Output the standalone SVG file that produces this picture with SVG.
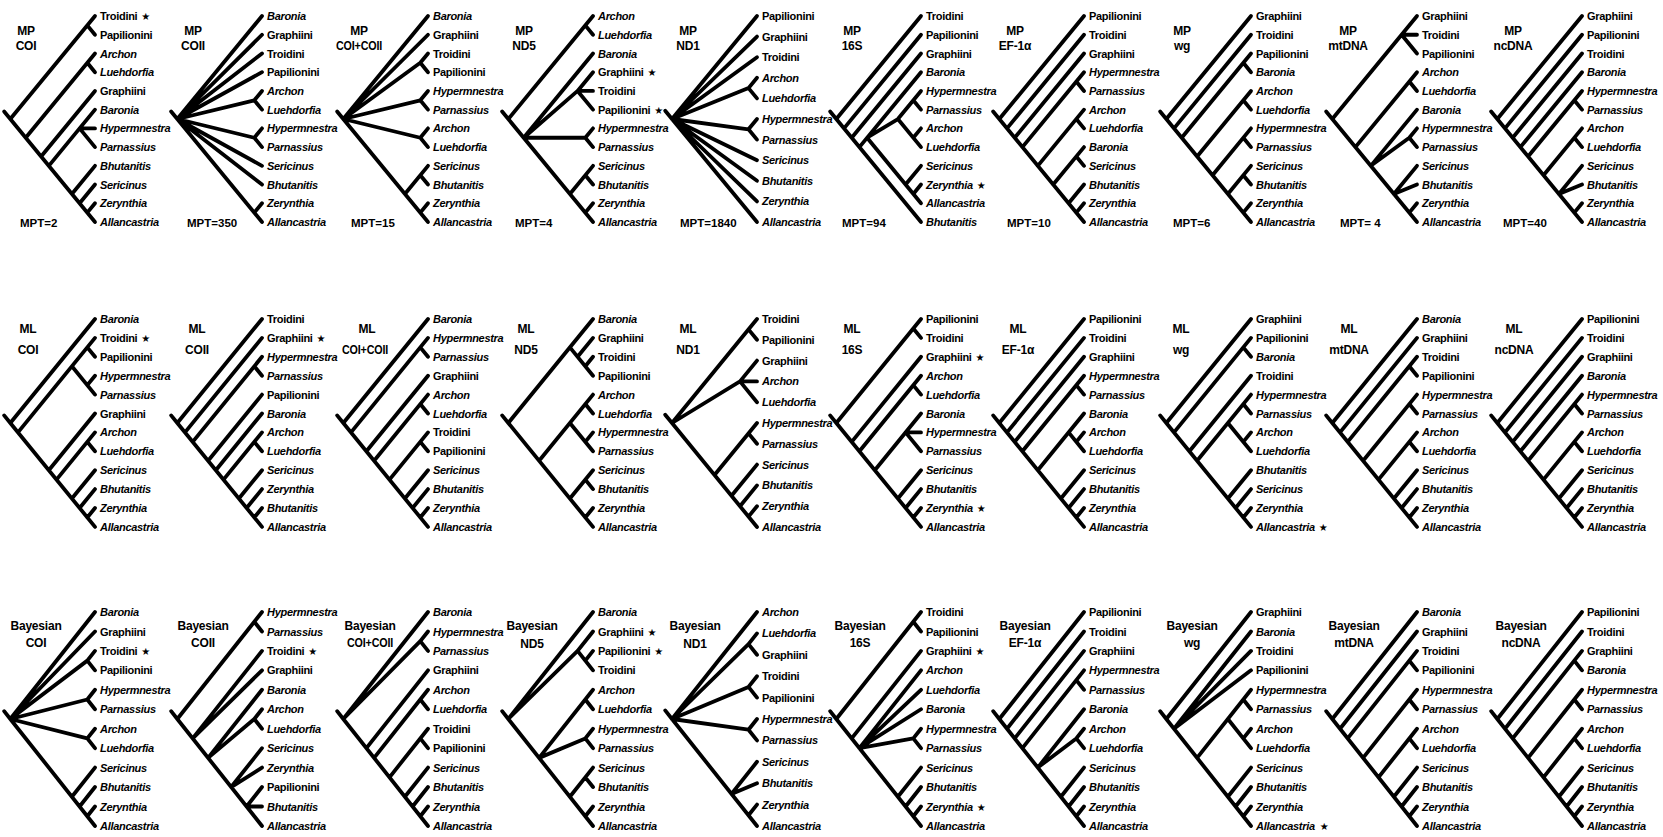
<svg xmlns="http://www.w3.org/2000/svg" width="1663" height="837" viewBox="0 0 1663 837">
<style>
.br{fill:none;stroke:#000;stroke-width:3.8;stroke-linecap:round;stroke-linejoin:round;vector-effect:non-scaling-stroke}
text{font-family:"Liberation Sans",Arial,sans-serif;font-weight:bold;font-size:11px;letter-spacing:-0.3px;fill:#000}
.i{font-style:italic}
.lb{font-size:12px;text-anchor:middle;letter-spacing:-0.2px}
.mpt{font-size:11.5px;letter-spacing:0}
.s{font-family:"DejaVu Sans",sans-serif;font-size:10px;font-style:normal;font-weight:bold}
</style>
<rect width="1663" height="837" fill="#fff"/>
<g id="connectors">
<path id="b-r1c0" class="br" transform="translate(95,16) scale(15.4,18.73)" d="M-5.9 5.1L-5.5 5.5M-5.5 5.5L0 0M-0.5 0.5L0 1M-5.5 5.5L0 11M-4.5 6.5L0 2M-0.5 2.5L0 3M-3.5 7.5L0 4M-3 8L0 5M-1 6L0 6M-1 6L0 7M-1.5 9.5L0 8M-1 10L0 9M-0.5 10.5L0 10"/>
<path id="b-r1c1" class="br" transform="translate(262,16) scale(15.4,18.73)" d="M-5.9 5.1L-5.5 5.5M-5.5 5.5L0 0M-5.5 5.5L0 1M-5.5 5.5L0 2M-5.5 5.5L0 3M-5.5 5.5L-0.5 4.5L0 4M-0.5 4.5L0 5M-5.5 5.5L-0.5 6.5L0 6M-0.5 6.5L0 7M-5.5 5.5L0 8M-5.5 5.5L0 9M-5.5 5.5L0 11M-0.5 10.5L0 10"/>
<path id="b-r1c2" class="br" transform="translate(428,16) scale(15.4,18.73)" d="M-5.9 5.1L-5.5 5.5M-5.5 5.5L0 0M-5.5 5.5L0 1M-5.5 5.5L-0.5 2.5L0 2M-0.5 2.5L0 3M-5.5 5.5L-0.5 4.5L0 4M-0.5 4.5L0 5M-5.5 5.5L-0.5 6.5L0 6M-0.5 6.5L0 7M-5.5 5.5L0 11M-1.5 9.5L0 8M-0.5 8.5L0 9M-0.5 10.5L0 10"/>
<path id="b-r1c3" class="br" transform="translate(593,16) scale(15.4,18.73)" d="M-5.9 5.1L-5.5 5.5M-5.5 5.5L0 0M-0.5 0.5L0 1M-5.5 5.5L0 11M-4.5 6.5L0 2M-4.5 6.5L-1 4L0 3M-1 4L0 4M-1 4L0 5M-4.5 6.5L-0.5 6.5L0 6M-0.5 6.5L0 7M-1.5 9.5L0 8M-0.5 8.5L0 9M-0.5 10.5L0 10"/>
<path id="b-r1c4" class="br" transform="translate(757,16) scale(17,20.6)" d="M-5.4 4.6L-5 5M-5 5L0 0M-5 5L0 1M-5 5L0 2M-5 5L-0.5 3.5L0 3M-0.5 3.5L0 4M-5 5L-0.5 5.5L0 5M-0.5 5.5L0 6M-5 5L0 7M-5 5L0 8M-5 5L0 9M-5 5L0 10"/>
<path id="b-r1c5" class="br" transform="translate(921,16) scale(15.4,18.73)" d="M-5.9 5.1L-5.5 5.5M-5.5 5.5L0 0M-5.5 5.5L0 11M-5 6L0 1M-4.5 6.5L0 2M-4 7L0 3M-3.5 6.5L-1.5 5.5L0 4M-0.5 4.5L0 5M-1.5 5.5L0 7M-0.5 6.5L0 6M-3.5 6.5L0 10M-1 9L0 8M-0.5 9.5L0 9"/>
<path id="b-r1c6" class="br" transform="translate(1084,16) scale(15.4,18.73)" d="M-5.9 5.1L-5.5 5.5M-5.5 5.5L0 11M-5.5 5.5L0 0M-5 6L0 1M-4.5 6.5L0 2M-4 7L0 3M-0.5 3.5L0 4M-3 8L0 5M-0.5 5.5L0 6M-2 9L0 7M-0.5 7.5L0 8M-1 10L0 9M-0.5 10.5L0 10"/>
<path id="b-r1c7" class="br" transform="translate(1251,16) scale(15.4,18.73)" d="M-5.9 5.1L-5.5 5.5M-5.5 5.5L0 11M-5.5 5.5L0 0M-5 6L0 1M-4.5 6.5L0 2M-0.5 2.5L0 3M-3.5 7.5L0 4M-0.5 4.5L0 5M-2.5 8.5L0 6M-0.5 6.5L0 7M-1.5 9.5L0 8M-0.5 8.5L0 9M-0.5 10.5L0 10"/>
<path id="b-r1c8" class="br" transform="translate(1417,16) scale(15.4,18.73)" d="M-5.9 5.1L-5.5 5.5M-5.5 5.5L0 0M-1 1L0 1M-1 1L0 2M-5.5 5.5L0 11M-4 7L0 3M-0.5 3.5L0 4M-3 8L0 5M-3 8L-0.5 6.5L0 6M-0.5 6.5L0 7M-1.5 9.5L0 8M-1.5 9.5L0 9M-0.5 10.5L0 10"/>
<path id="b-r1c9" class="br" transform="translate(1582,16) scale(15.4,18.73)" d="M-5.9 5.1L-5.5 5.5M-5.5 5.5L0 11M-5.5 5.5L0 0M-5 6L0 1M-4.5 6.5L0 2M-4 7L0 3M-3.5 7.5L0 4M-0.5 4.5L0 5M-2.5 8.5L0 6M-0.5 6.5L0 7M-1.5 9.5L0 8M-1.5 9.5L0 9M-0.5 10.5L0 10"/>
<path id="b-r2c0" class="br" transform="translate(95,319) scale(15.4,18.9)" d="M-5.9 5.1L-5.5 5.5M-5.5 5.5L0 11M-5.5 5.5L0 0M-5 6L0 1M-0.5 1.5L0 2M-1.5 2.5L0 4M-0.5 3.5L0 3M-3 8L0 5M-2.5 8.5L0 6M-0.5 6.5L0 7M-1.5 9.5L0 8M-1 10L0 9M-0.5 10.5L0 10"/>
<path id="b-r2c1" class="br" transform="translate(262,319) scale(15.4,18.9)" d="M-5.9 5.1L-5.5 5.5M-5.5 5.5L0 11M-5.5 5.5L0 0M-5 6L0 1M-4.5 6.5L0 2M-0.5 2.5L0 3M-3.5 7.5L0 4M-3 8L0 5M-2.5 8.5L0 6M-0.5 6.5L0 7M-1.5 9.5L0 8M-1 10L0 9M-0.5 10.5L0 10"/>
<path id="b-r2c2" class="br" transform="translate(428,319) scale(15.4,18.9)" d="M-5.9 5.1L-5.5 5.5M-5.5 5.5L0 11M-5.5 5.5L0 0M-5 6L0 1M-0.5 1.5L0 2M-4 7L0 3M-3.5 7.5L0 4M-0.5 4.5L0 5M-2.5 8.5L0 6M-0.5 6.5L0 7M-1.5 9.5L0 8M-1 10L0 9M-0.5 10.5L0 10"/>
<path id="b-r2c3" class="br" transform="translate(593,319) scale(15.4,18.9)" d="M-5.9 5.1L-5.5 5.5M-5.5 5.5L0 0M-1.5 1.5L0 3M-1 2L0 1M-0.5 2.5L0 2M-5.5 5.5L0 11M-3.5 7.5L0 4M-1.5 5.5L0 7M-0.5 4.5L0 5M-0.5 6.5L0 6M-1.5 9.5L0 8M-0.5 8.5L0 9M-0.5 10.5L0 10"/>
<path id="b-r2c4" class="br" transform="translate(757,319) scale(17,20.8)" d="M-5.4 4.6L-5 5M-5 5L0 0M-0.5 0.5L0 1M-5 5L-1 3L0 2M-1 3L0 3M-1 3L0 4M-5 5L0 10M-2.5 7.5L0 5M-0.5 5.5L0 6M-1.5 8.5L0 7M-1 9L0 8M-0.5 9.5L0 9"/>
<path id="b-r2c5" class="br" transform="translate(921,319) scale(15.4,18.9)" d="M-5.9 5.1L-5.5 5.5M-5.5 5.5L0 0M-0.5 0.5L0 1M-5.5 5.5L0 11M-4.5 6.5L0 2M-4 7L0 3M-0.5 3.5L0 4M-3 8L0 5M-1 6L0 6M-1 6L0 7M-1.5 9.5L0 8M-1 10L0 9M-0.5 10.5L0 10"/>
<path id="b-r2c6" class="br" transform="translate(1084,319) scale(15.4,18.9)" d="M-5.9 5.1L-5.5 5.5M-5.5 5.5L0 11M-5.5 5.5L0 0M-5 6L0 1M-4.5 6.5L0 2M-4 7L0 3M-0.5 3.5L0 4M-3 8L0 5M-1 6L0 7M-0.5 6.5L0 6M-1.5 9.5L0 8M-1 10L0 9M-0.5 10.5L0 10"/>
<path id="b-r2c7" class="br" transform="translate(1251,319) scale(15.4,18.9)" d="M-5.9 5.1L-5.5 5.5M-5.5 5.5L0 11M-5.5 5.5L0 0M-5 6L0 1M-0.5 1.5L0 2M-4 7L0 3M-3.5 7.5L0 4M-1.5 5.5L0 7M-0.5 4.5L0 5M-0.5 6.5L0 6M-1.5 9.5L0 8M-1 10L0 9M-0.5 10.5L0 10"/>
<path id="b-r2c8" class="br" transform="translate(1417,319) scale(15.4,18.9)" d="M-5.9 5.1L-5.5 5.5M-5.5 5.5L0 11M-5.5 5.5L0 0M-5 6L0 1M-4.5 6.5L0 2M-0.5 2.5L0 3M-3.5 7.5L0 4M-0.5 4.5L0 5M-2.5 8.5L0 6M-0.5 6.5L0 7M-1.5 9.5L0 8M-1 10L0 9M-0.5 10.5L0 10"/>
<path id="b-r2c9" class="br" transform="translate(1582,319) scale(15.4,18.9)" d="M-5.9 5.1L-5.5 5.5M-5.5 5.5L0 11M-5.5 5.5L0 0M-5 6L0 1M-4.5 6.5L0 2M-4 7L0 3M-3.5 7.5L0 4M-0.5 4.5L0 5M-2.5 8.5L0 6M-0.5 6.5L0 7M-1.5 9.5L0 8M-1 10L0 9M-0.5 10.5L0 10"/>
<path id="b-r3c0" class="br" transform="translate(95,612) scale(15.4,19.45)" d="M-5.9 5.1L-5.5 5.5M-5.5 5.5L0 0M-5.5 5.5L0 1M-5.5 5.5L-0.5 2.5L0 2M-0.5 2.5L0 3M-5.5 5.5L-0.5 4.5L0 4M-0.5 4.5L0 5M-5.5 5.5L-0.5 6.5L0 6M-0.5 6.5L0 7M-5.5 5.5L0 11M-1.5 9.5L0 8M-1 10L0 9M-0.5 10.5L0 10"/>
<path id="b-r3c1" class="br" transform="translate(262,612) scale(15.4,19.45)" d="M-5.9 5.1L-5.5 5.5M-5.5 5.5L0 0M-0.5 0.5L0 1M-5.5 5.5L0 11M-4.5 6.5L0 2M-4.5 6.5L0 3M-3.5 7.5L0 4M-3.5 7.5L-0.5 5.5L0 5M-0.5 5.5L0 6M-2 9L0 7M-2 9L0 8M-1 10L0 9M-1 10L0 10"/>
<path id="b-r3c2" class="br" transform="translate(428,612) scale(15.4,19.45)" d="M-5.9 5.1L-5.5 5.5M-5.5 5.5L0 0M-5.5 5.5L-0.5 1.5L0 1M-0.5 1.5L0 2M-5.5 5.5L0 11M-4 7L0 3M-3.5 7.5L0 4M-0.5 4.5L0 5M-2.5 8.5L0 6M-0.5 6.5L0 7M-1.5 9.5L0 8M-1 10L0 9M-0.5 10.5L0 10"/>
<path id="b-r3c3" class="br" transform="translate(593,612) scale(15.4,19.45)" d="M-5.9 5.1L-5.5 5.5M-5.5 5.5L0 0M-5.5 5.5L-1 2L0 1M-1 2L0 3M-0.5 2.5L0 2M-5.5 5.5L0 11M-3.5 7.5L0 4M-0.5 4.5L0 5M-3.5 7.5L-0.5 6.5L0 6M-0.5 6.5L0 7M-1.5 9.5L0 8M-0.5 8.5L0 9M-0.5 10.5L0 10"/>
<path id="b-r3c4" class="br" transform="translate(757,612) scale(17,21.4)" d="M-5.4 4.6L-5 5M-5 5L0 0M-5 5L-0.5 1.5L0 1M-0.5 1.5L0 2M-5 5L-0.5 3.5L0 3M-0.5 3.5L0 4M-5 5L-0.5 5.5L0 5M-0.5 5.5L0 6M-5 5L0 10M-1.5 8.5L0 7M-1.5 8.5L0 8M-0.5 9.5L0 9"/>
<path id="b-r3c5" class="br" transform="translate(921,612) scale(15.4,19.45)" d="M-5.9 5.1L-5.5 5.5M-5.5 5.5L0 0M-0.5 0.5L0 1M-5.5 5.5L0 11M-4.5 6.5L0 2M-4 7L0 3M-4 7L0 4M-4 7L0 5M-4 7L-0.5 6.5L0 6M-0.5 6.5L0 7M-1.5 9.5L0 8M-1 10L0 9M-0.5 10.5L0 10"/>
<path id="b-r3c6" class="br" transform="translate(1084,612) scale(15.4,19.45)" d="M-5.9 5.1L-5.5 5.5M-5.5 5.5L0 11M-5.5 5.5L0 0M-5 6L0 1M-4.5 6.5L0 2M-4 7L0 3M-0.5 3.5L0 4M-3 8L0 5M-3 8L-0.5 6.5L0 6M-0.5 6.5L0 7M-1.5 9.5L0 8M-1 10L0 9M-0.5 10.5L0 10"/>
<path id="b-r3c7" class="br" transform="translate(1251,612) scale(15.4,19.45)" d="M-5.9 5.1L-5.5 5.5M-5.5 5.5L0 11M-5.5 5.5L0 0M-5 6L0 1M-5 6L0 2M-5 6L0 3M-3.5 7.5L0 4M-1.5 5.5L0 7M-0.5 4.5L0 5M-0.5 6.5L0 6M-1.5 9.5L0 8M-1 10L0 9M-0.5 10.5L0 10"/>
<path id="b-r3c8" class="br" transform="translate(1417,612) scale(15.4,19.45)" d="M-5.9 5.1L-5.5 5.5M-5.5 5.5L0 11M-5.5 5.5L0 0M-5 6L0 1M-4.5 6.5L0 2M-0.5 2.5L0 3M-3.5 7.5L0 4M-0.5 4.5L0 5M-2.5 8.5L0 6M-0.5 6.5L0 7M-1.5 9.5L0 8M-1 10L0 9M-0.5 10.5L0 10"/>
<path id="b-r3c9" class="br" transform="translate(1582,612) scale(15.4,19.45)" d="M-5.9 5.1L-5.5 5.5M-5.5 5.5L0 11M-5.5 5.5L0 0M-5 6L0 1M-4.5 6.5L0 2M-0.5 2.5L0 3M-3.5 7.5L0 4M-0.5 4.5L0 5M-2.5 8.5L0 6M-0.5 6.5L0 7M-1.5 9.5L0 8M-1 10L0 9M-0.5 10.5L0 10"/>
</g>

<g id="mp-coi" transform="translate(100,0)">
<text class="lb" x="-74" y="35">MP</text><text class="lb" x="-74" y="50">COI</text><text class="mpt" x="-80" y="227">MPT=2</text>
<text y="20">Troidini<tspan class="s" dx="4">★</tspan></text><text y="38.7">Papilionini</text><text class="i" y="57.5">Archon</text><text class="i" y="76.2">Luehdorfia</text><text y="94.9">Graphiini</text><text class="i" y="113.7">Baronia</text><text class="i" y="132.4">Hypermnestra</text><text class="i" y="151.1">Parnassius</text><text class="i" y="169.8">Bhutanitis</text><text class="i" y="188.6">Sericinus</text><text class="i" y="207.3">Zerynthia</text><text class="i" y="226">Allancastria</text>
</g>
<g id="mp-coii" transform="translate(267,0)">
<text class="lb" x="-74" y="35">MP</text><text class="lb" x="-74" y="50">COII</text><text class="mpt" x="-80" y="227">MPT=350</text>
<text class="i" y="20">Baronia</text><text y="38.7">Graphiini</text><text y="57.5">Troidini</text><text y="76.2">Papilionini</text><text class="i" y="94.9">Archon</text><text class="i" y="113.7">Luehdorfia</text><text class="i" y="132.4">Hypermnestra</text><text class="i" y="151.1">Parnassius</text><text class="i" y="169.8">Sericinus</text><text class="i" y="188.6">Bhutanitis</text><text class="i" y="207.3">Zerynthia</text><text class="i" y="226">Allancastria</text>
</g>
<g id="mp-coi-coii" transform="translate(433,0)">
<text class="lb" x="-74" y="35">MP</text><text class="lb" x="-74" y="50" textLength="46" lengthAdjust="spacingAndGlyphs">COI+COII</text><text class="mpt" x="-82" y="227">MPT=15</text>
<text class="i" y="20">Baronia</text><text y="38.7">Graphiini</text><text y="57.5">Troidini</text><text y="76.2">Papilionini</text><text class="i" y="94.9">Hypermnestra</text><text class="i" y="113.7">Parnassius</text><text class="i" y="132.4">Archon</text><text class="i" y="151.1">Luehdorfia</text><text class="i" y="169.8">Sericinus</text><text class="i" y="188.6">Bhutanitis</text><text class="i" y="207.3">Zerynthia</text><text class="i" y="226">Allancastria</text>
</g>
<g id="mp-nd5" transform="translate(598,0)">
<text class="lb" x="-74" y="35">MP</text><text class="lb" x="-74" y="50">ND5</text><text class="mpt" x="-83" y="227">MPT=4</text>
<text class="i" y="20">Archon</text><text class="i" y="38.7">Luehdorfia</text><text class="i" y="57.5">Baronia</text><text y="76.2">Graphiini<tspan class="s" dx="4">★</tspan></text><text y="94.9">Troidini</text><text y="113.7">Papilionini<tspan class="s" dx="4">★</tspan></text><text class="i" y="132.4">Hypermnestra</text><text class="i" y="151.1">Parnassius</text><text class="i" y="169.8">Sericinus</text><text class="i" y="188.6">Bhutanitis</text><text class="i" y="207.3">Zerynthia</text><text class="i" y="226">Allancastria</text>
</g>
<g id="mp-nd1" transform="translate(762,0)">
<text class="lb" x="-74" y="35">MP</text><text class="lb" x="-74" y="50">ND1</text><text class="mpt" x="-82" y="227">MPT=1840</text>
<text y="20">Papilionini</text><text y="40.6">Graphiini</text><text y="61.2">Troidini</text><text class="i" y="81.8">Archon</text><text class="i" y="102.4">Luehdorfia</text><text class="i" y="123">Hypermnestra</text><text class="i" y="143.6">Parnassius</text><text class="i" y="164.2">Sericinus</text><text class="i" y="184.8">Bhutanitis</text><text class="i" y="205.4">Zerynthia</text><text class="i" y="226">Allancastria</text>
</g>
<g id="mp-16s" transform="translate(926,0)">
<text class="lb" x="-74" y="35">MP</text><text class="lb" x="-74" y="50">16S</text><text class="mpt" x="-84" y="227">MPT=94</text>
<text y="20">Troidini</text><text y="38.7">Papilionini</text><text y="57.5">Graphiini</text><text class="i" y="76.2">Baronia</text><text class="i" y="94.9">Hypermnestra</text><text class="i" y="113.7">Parnassius</text><text class="i" y="132.4">Archon</text><text class="i" y="151.1">Luehdorfia</text><text class="i" y="169.8">Sericinus</text><text class="i" y="188.6">Zerynthia<tspan class="s" dx="4">★</tspan></text><text class="i" y="207.3">Allancastria</text><text class="i" y="226">Bhutanitis</text>
</g>
<g id="mp-ef1a" transform="translate(1089,0)">
<text class="lb" x="-74" y="35">MP</text><text class="lb" x="-74" y="50">EF-1α</text><text class="mpt" x="-82" y="227">MPT=10</text>
<text y="20">Papilionini</text><text y="38.7">Troidini</text><text y="57.5">Graphiini</text><text class="i" y="76.2">Hypermnestra</text><text class="i" y="94.9">Parnassius</text><text class="i" y="113.7">Archon</text><text class="i" y="132.4">Luehdorfia</text><text class="i" y="151.1">Baronia</text><text class="i" y="169.8">Sericinus</text><text class="i" y="188.6">Bhutanitis</text><text class="i" y="207.3">Zerynthia</text><text class="i" y="226">Allancastria</text>
</g>
<g id="mp-wg" transform="translate(1256,0)">
<text class="lb" x="-74" y="35">MP</text><text class="lb" x="-74" y="50">wg</text><text class="mpt" x="-83" y="227">MPT=6</text>
<text y="20">Graphiini</text><text y="38.7">Troidini</text><text y="57.5">Papilionini</text><text class="i" y="76.2">Baronia</text><text class="i" y="94.9">Archon</text><text class="i" y="113.7">Luehdorfia</text><text class="i" y="132.4">Hypermnestra</text><text class="i" y="151.1">Parnassius</text><text class="i" y="169.8">Sericinus</text><text class="i" y="188.6">Bhutanitis</text><text class="i" y="207.3">Zerynthia</text><text class="i" y="226">Allancastria</text>
</g>
<g id="mp-mtdna" transform="translate(1422,0)">
<text class="lb" x="-74" y="35">MP</text><text class="lb" x="-74" y="50">mtDNA</text><text class="mpt" x="-82" y="227">MPT= 4</text>
<text y="20">Graphiini</text><text y="38.7">Troidini</text><text y="57.5">Papilionini</text><text class="i" y="76.2">Archon</text><text class="i" y="94.9">Luehdorfia</text><text class="i" y="113.7">Baronia</text><text class="i" y="132.4">Hypermnestra</text><text class="i" y="151.1">Parnassius</text><text class="i" y="169.8">Sericinus</text><text class="i" y="188.6">Bhutanitis</text><text class="i" y="207.3">Zerynthia</text><text class="i" y="226">Allancastria</text>
</g>
<g id="mp-ncdna" transform="translate(1587,0)">
<text class="lb" x="-74" y="35">MP</text><text class="lb" x="-74" y="50">ncDNA</text><text class="mpt" x="-84" y="227">MPT=40</text>
<text y="20">Graphiini</text><text y="38.7">Papilionini</text><text y="57.5">Troidini</text><text class="i" y="76.2">Baronia</text><text class="i" y="94.9">Hypermnestra</text><text class="i" y="113.7">Parnassius</text><text class="i" y="132.4">Archon</text><text class="i" y="151.1">Luehdorfia</text><text class="i" y="169.8">Sericinus</text><text class="i" y="188.6">Bhutanitis</text><text class="i" y="207.3">Zerynthia</text><text class="i" y="226">Allancastria</text>
</g>

<g id="ml-coi" transform="translate(100,0)">
<text class="lb" x="-72" y="333">ML</text><text class="lb" x="-72" y="354">COI</text>
<text class="i" y="323">Baronia</text><text y="341.9">Troidini<tspan class="s" dx="4">★</tspan></text><text y="360.8">Papilionini</text><text class="i" y="379.7">Hypermnestra</text><text class="i" y="398.6">Parnassius</text><text y="417.5">Graphiini</text><text class="i" y="436.4">Archon</text><text class="i" y="455.3">Luehdorfia</text><text class="i" y="474.2">Sericinus</text><text class="i" y="493.1">Bhutanitis</text><text class="i" y="512">Zerynthia</text><text class="i" y="530.9">Allancastria</text>
</g>
<g id="ml-coii" transform="translate(267,0)">
<text class="lb" x="-70" y="333">ML</text><text class="lb" x="-70" y="354">COII</text>
<text y="323">Troidini</text><text y="341.9">Graphiini<tspan class="s" dx="4">★</tspan></text><text class="i" y="360.8">Hypermnestra</text><text class="i" y="379.7">Parnassius</text><text y="398.6">Papilionini</text><text class="i" y="417.5">Baronia</text><text class="i" y="436.4">Archon</text><text class="i" y="455.3">Luehdorfia</text><text class="i" y="474.2">Sericinus</text><text class="i" y="493.1">Zerynthia</text><text class="i" y="512">Bhutanitis</text><text class="i" y="530.9">Allancastria</text>
</g>
<g id="ml-coi-coii" transform="translate(433,0)">
<text class="lb" x="-66" y="333">ML</text><text class="lb" x="-68" y="354" textLength="46" lengthAdjust="spacingAndGlyphs">COI+COII</text>
<text class="i" y="323">Baronia</text><text class="i" y="341.9">Hypermnestra</text><text class="i" y="360.8">Parnassius</text><text y="379.7">Graphiini</text><text class="i" y="398.6">Archon</text><text class="i" y="417.5">Luehdorfia</text><text y="436.4">Troidini</text><text y="455.3">Papilionini</text><text class="i" y="474.2">Sericinus</text><text class="i" y="493.1">Bhutanitis</text><text class="i" y="512">Zerynthia</text><text class="i" y="530.9">Allancastria</text>
</g>
<g id="ml-nd5" transform="translate(598,0)">
<text class="lb" x="-72" y="333">ML</text><text class="lb" x="-72" y="354">ND5</text>
<text class="i" y="323">Baronia</text><text y="341.9">Graphiini</text><text y="360.8">Troidini</text><text y="379.7">Papilionini</text><text class="i" y="398.6">Archon</text><text class="i" y="417.5">Luehdorfia</text><text class="i" y="436.4">Hypermnestra</text><text class="i" y="455.3">Parnassius</text><text class="i" y="474.2">Sericinus</text><text class="i" y="493.1">Bhutanitis</text><text class="i" y="512">Zerynthia</text><text class="i" y="530.9">Allancastria</text>
</g>
<g id="ml-nd1" transform="translate(762,0)">
<text class="lb" x="-74" y="333">ML</text><text class="lb" x="-74" y="354">ND1</text>
<text y="323">Troidini</text><text y="343.8">Papilionini</text><text y="364.6">Graphiini</text><text class="i" y="385.4">Archon</text><text class="i" y="406.2">Luehdorfia</text><text class="i" y="427">Hypermnestra</text><text class="i" y="447.8">Parnassius</text><text class="i" y="468.6">Sericinus</text><text class="i" y="489.4">Bhutanitis</text><text class="i" y="510.2">Zerynthia</text><text class="i" y="531">Allancastria</text>
</g>
<g id="ml-16s" transform="translate(926,0)">
<text class="lb" x="-74" y="333">ML</text><text class="lb" x="-74" y="354">16S</text>
<text y="323">Papilionini</text><text y="341.9">Troidini</text><text y="360.8">Graphiini<tspan class="s" dx="4">★</tspan></text><text class="i" y="379.7">Archon</text><text class="i" y="398.6">Luehdorfia</text><text class="i" y="417.5">Baronia</text><text class="i" y="436.4">Hypermnestra</text><text class="i" y="455.3">Parnassius</text><text class="i" y="474.2">Sericinus</text><text class="i" y="493.1">Bhutanitis</text><text class="i" y="512">Zerynthia<tspan class="s" dx="4">★</tspan></text><text class="i" y="530.9">Allancastria</text>
</g>
<g id="ml-ef1a" transform="translate(1089,0)">
<text class="lb" x="-71" y="333">ML</text><text class="lb" x="-71" y="354">EF-1α</text>
<text y="323">Papilionini</text><text y="341.9">Troidini</text><text y="360.8">Graphiini</text><text class="i" y="379.7">Hypermnestra</text><text class="i" y="398.6">Parnassius</text><text class="i" y="417.5">Baronia</text><text class="i" y="436.4">Archon</text><text class="i" y="455.3">Luehdorfia</text><text class="i" y="474.2">Sericinus</text><text class="i" y="493.1">Bhutanitis</text><text class="i" y="512">Zerynthia</text><text class="i" y="530.9">Allancastria</text>
</g>
<g id="ml-wg" transform="translate(1256,0)">
<text class="lb" x="-75" y="333">ML</text><text class="lb" x="-75" y="354">wg</text>
<text y="323">Graphiini</text><text y="341.9">Papilionini</text><text class="i" y="360.8">Baronia</text><text y="379.7">Troidini</text><text class="i" y="398.6">Hypermnestra</text><text class="i" y="417.5">Parnassius</text><text class="i" y="436.4">Archon</text><text class="i" y="455.3">Luehdorfia</text><text class="i" y="474.2">Bhutanitis</text><text class="i" y="493.1">Sericinus</text><text class="i" y="512">Zerynthia</text><text class="i" y="530.9">Allancastria<tspan class="s" dx="4">★</tspan></text>
</g>
<g id="ml-mtdna" transform="translate(1422,0)">
<text class="lb" x="-73" y="333">ML</text><text class="lb" x="-73" y="354">mtDNA</text>
<text class="i" y="323">Baronia</text><text y="341.9">Graphiini</text><text y="360.8">Troidini</text><text y="379.7">Papilionini</text><text class="i" y="398.6">Hypermnestra</text><text class="i" y="417.5">Parnassius</text><text class="i" y="436.4">Archon</text><text class="i" y="455.3">Luehdorfia</text><text class="i" y="474.2">Sericinus</text><text class="i" y="493.1">Bhutanitis</text><text class="i" y="512">Zerynthia</text><text class="i" y="530.9">Allancastria</text>
</g>
<g id="ml-ncdna" transform="translate(1587,0)">
<text class="lb" x="-73" y="333">ML</text><text class="lb" x="-73" y="354">ncDNA</text>
<text y="323">Papilionini</text><text y="341.9">Troidini</text><text y="360.8">Graphiini</text><text class="i" y="379.7">Baronia</text><text class="i" y="398.6">Hypermnestra</text><text class="i" y="417.5">Parnassius</text><text class="i" y="436.4">Archon</text><text class="i" y="455.3">Luehdorfia</text><text class="i" y="474.2">Sericinus</text><text class="i" y="493.1">Bhutanitis</text><text class="i" y="512">Zerynthia</text><text class="i" y="530.9">Allancastria</text>
</g>

<g id="by-coi" transform="translate(100,0)">
<text class="lb" x="-64" y="630">Bayesian</text><text class="lb" x="-64" y="647">COI</text>
<text class="i" y="616">Baronia</text><text y="635.5">Graphiini</text><text y="654.9">Troidini<tspan class="s" dx="4">★</tspan></text><text y="674.4">Papilionini</text><text class="i" y="693.8">Hypermnestra</text><text class="i" y="713.3">Parnassius</text><text class="i" y="732.7">Archon</text><text class="i" y="752.2">Luehdorfia</text><text class="i" y="771.6">Sericinus</text><text class="i" y="791.1">Bhutanitis</text><text class="i" y="810.5">Zerynthia</text><text class="i" y="830">Allancastria</text>
</g>
<g id="by-coii" transform="translate(267,0)">
<text class="lb" x="-64" y="630">Bayesian</text><text class="lb" x="-64" y="647">COII</text>
<text class="i" y="616">Hypermnestra</text><text class="i" y="635.5">Parnassius</text><text y="654.9">Troidini<tspan class="s" dx="4">★</tspan></text><text y="674.4">Graphiini</text><text class="i" y="693.8">Baronia</text><text class="i" y="713.3">Archon</text><text class="i" y="732.7">Luehdorfia</text><text class="i" y="752.2">Sericinus</text><text class="i" y="771.6">Zerynthia</text><text y="791.1">Papilionini</text><text class="i" y="810.5">Bhutanitis</text><text class="i" y="830">Allancastria</text>
</g>
<g id="by-coi-coii" transform="translate(433,0)">
<text class="lb" x="-63" y="630">Bayesian</text><text class="lb" x="-63" y="647" textLength="46" lengthAdjust="spacingAndGlyphs">COI+COII</text>
<text class="i" y="616">Baronia</text><text class="i" y="635.5">Hypermnestra</text><text class="i" y="654.9">Parnassius</text><text y="674.4">Graphiini</text><text class="i" y="693.8">Archon</text><text class="i" y="713.3">Luehdorfia</text><text y="732.7">Troidini</text><text y="752.2">Papilionini</text><text class="i" y="771.6">Sericinus</text><text class="i" y="791.1">Bhutanitis</text><text class="i" y="810.5">Zerynthia</text><text class="i" y="830">Allancastria</text>
</g>
<g id="by-nd5" transform="translate(598,0)">
<text class="lb" x="-66" y="630">Bayesian</text><text class="lb" x="-66" y="648">ND5</text>
<text class="i" y="616">Baronia</text><text y="635.5">Graphiini<tspan class="s" dx="4">★</tspan></text><text y="654.9">Papilionini<tspan class="s" dx="4">★</tspan></text><text y="674.4">Troidini</text><text class="i" y="693.8">Archon</text><text class="i" y="713.3">Luehdorfia</text><text class="i" y="732.7">Hypermnestra</text><text class="i" y="752.2">Parnassius</text><text class="i" y="771.6">Sericinus</text><text class="i" y="791.1">Bhutanitis</text><text class="i" y="810.5">Zerynthia</text><text class="i" y="830">Allancastria</text>
</g>
<g id="by-nd1" transform="translate(762,0)">
<text class="lb" x="-67" y="630">Bayesian</text><text class="lb" x="-67" y="648">ND1</text>
<text class="i" y="616">Archon</text><text class="i" y="637.4">Luehdorfia</text><text y="658.8">Graphiini</text><text y="680.2">Troidini</text><text y="701.6">Papilionini</text><text class="i" y="723">Hypermnestra</text><text class="i" y="744.4">Parnassius</text><text class="i" y="765.8">Sericinus</text><text class="i" y="787.2">Bhutanitis</text><text class="i" y="808.6">Zerynthia</text><text class="i" y="830">Allancastria</text>
</g>
<g id="by-16s" transform="translate(926,0)">
<text class="lb" x="-66" y="630">Bayesian</text><text class="lb" x="-66" y="647">16S</text>
<text y="616">Troidini</text><text y="635.5">Papilionini</text><text y="654.9">Graphiini<tspan class="s" dx="4">★</tspan></text><text class="i" y="674.4">Archon</text><text class="i" y="693.8">Luehdorfia</text><text class="i" y="713.3">Baronia</text><text class="i" y="732.7">Hypermnestra</text><text class="i" y="752.2">Parnassius</text><text class="i" y="771.6">Sericinus</text><text class="i" y="791.1">Bhutanitis</text><text class="i" y="810.5">Zerynthia<tspan class="s" dx="4">★</tspan></text><text class="i" y="830">Allancastria</text>
</g>
<g id="by-ef1a" transform="translate(1089,0)">
<text class="lb" x="-64" y="630">Bayesian</text><text class="lb" x="-64" y="647">EF-1α</text>
<text y="616">Papilionini</text><text y="635.5">Troidini</text><text y="654.9">Graphiini</text><text class="i" y="674.4">Hypermnestra</text><text class="i" y="693.8">Parnassius</text><text class="i" y="713.3">Baronia</text><text class="i" y="732.7">Archon</text><text class="i" y="752.2">Luehdorfia</text><text class="i" y="771.6">Sericinus</text><text class="i" y="791.1">Bhutanitis</text><text class="i" y="810.5">Zerynthia</text><text class="i" y="830">Allancastria</text>
</g>
<g id="by-wg" transform="translate(1256,0)">
<text class="lb" x="-64" y="630">Bayesian</text><text class="lb" x="-64" y="647">wg</text>
<text y="616">Graphiini</text><text class="i" y="635.5">Baronia</text><text y="654.9">Troidini</text><text y="674.4">Papilionini</text><text class="i" y="693.8">Hypermnestra</text><text class="i" y="713.3">Parnassius</text><text class="i" y="732.7">Archon</text><text class="i" y="752.2">Luehdorfia</text><text class="i" y="771.6">Sericinus</text><text class="i" y="791.1">Bhutanitis</text><text class="i" y="810.5">Zerynthia</text><text class="i" y="830">Allancastria<tspan class="s" dx="5">★</tspan></text>
</g>
<g id="by-mtdna" transform="translate(1422,0)">
<text class="lb" x="-68" y="630">Bayesian</text><text class="lb" x="-68" y="647">mtDNA</text>
<text class="i" y="616">Baronia</text><text y="635.5">Graphiini</text><text y="654.9">Troidini</text><text y="674.4">Papilionini</text><text class="i" y="693.8">Hypermnestra</text><text class="i" y="713.3">Parnassius</text><text class="i" y="732.7">Archon</text><text class="i" y="752.2">Luehdorfia</text><text class="i" y="771.6">Sericinus</text><text class="i" y="791.1">Bhutanitis</text><text class="i" y="810.5">Zerynthia</text><text class="i" y="830">Allancastria</text>
</g>
<g id="by-ncdna" transform="translate(1587,0)">
<text class="lb" x="-66" y="630">Bayesian</text><text class="lb" x="-66" y="647">ncDNA</text>
<text y="616">Papilionini</text><text y="635.5">Troidini</text><text y="654.9">Graphiini</text><text class="i" y="674.4">Baronia</text><text class="i" y="693.8">Hypermnestra</text><text class="i" y="713.3">Parnassius</text><text class="i" y="732.7">Archon</text><text class="i" y="752.2">Luehdorfia</text><text class="i" y="771.6">Sericinus</text><text class="i" y="791.1">Bhutanitis</text><text class="i" y="810.5">Zerynthia</text><text class="i" y="830">Allancastria</text>
</g>
</svg>
